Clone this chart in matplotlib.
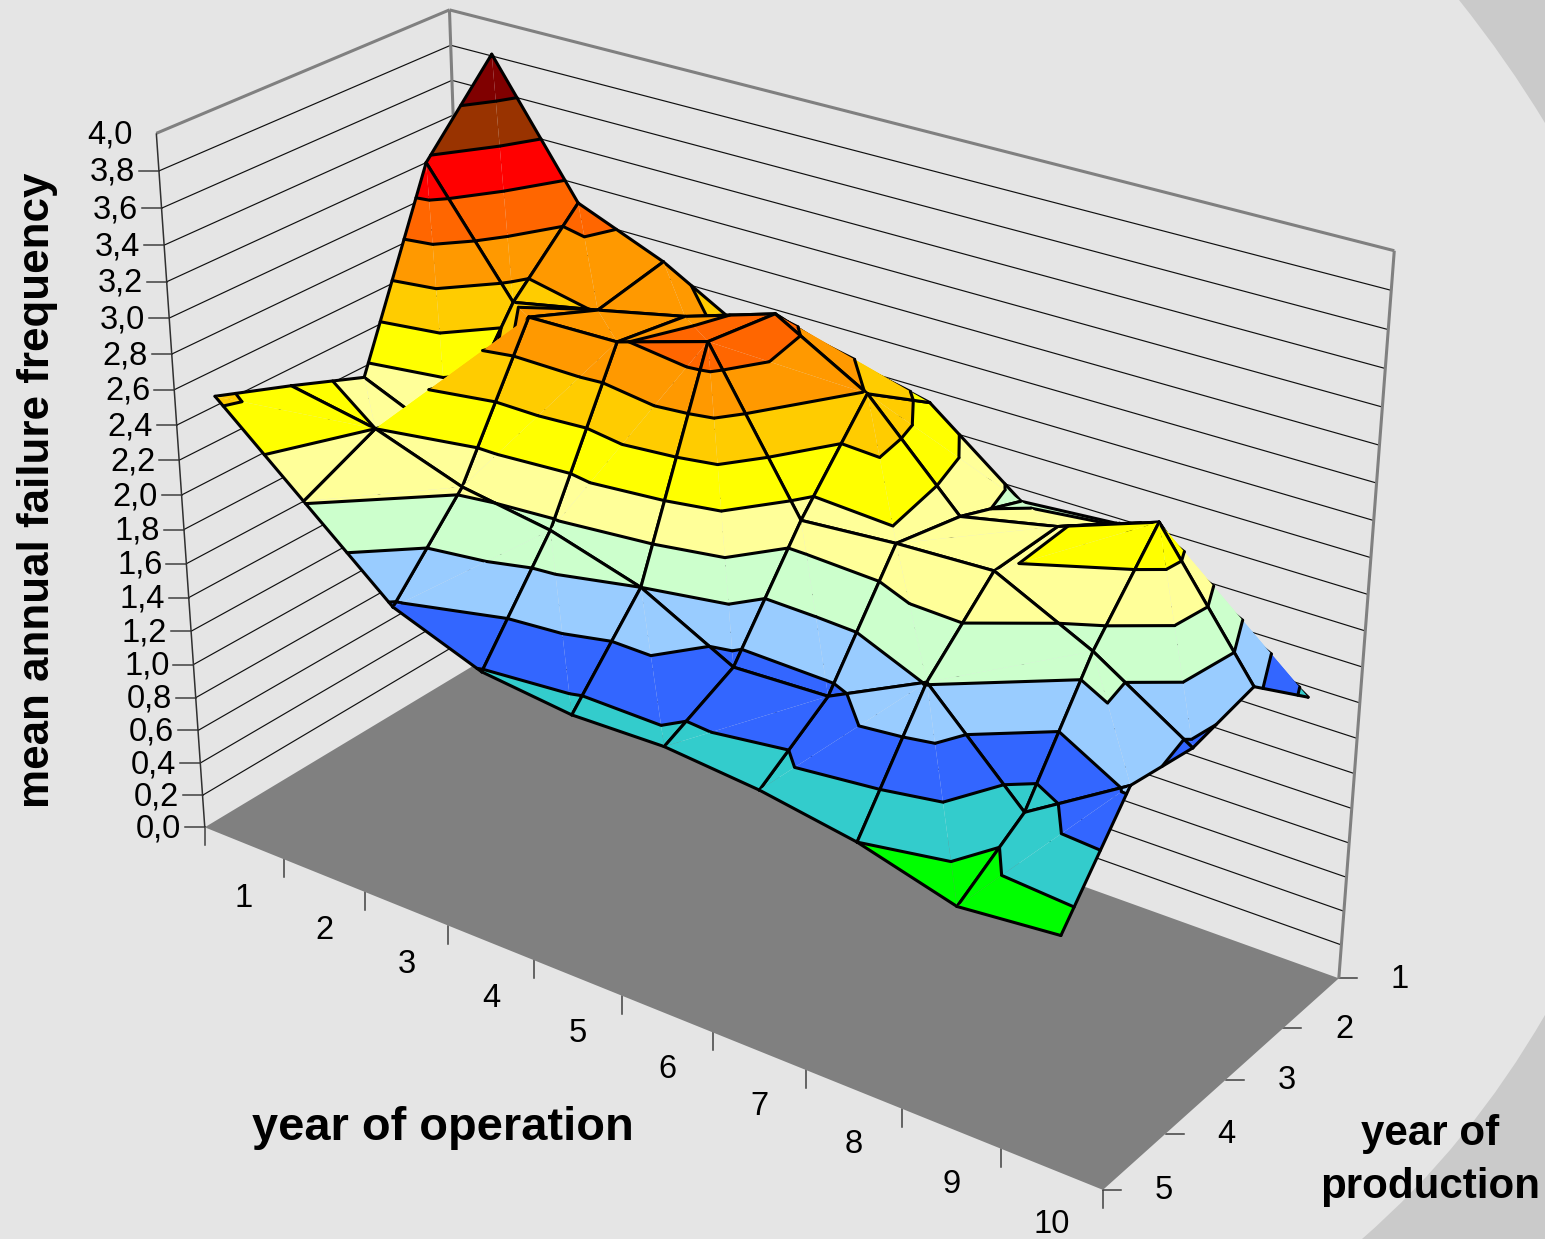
import numpy as np
import matplotlib
matplotlib.use('Agg')
import matplotlib.pyplot as plt
from matplotlib.patches import PathPatch
from matplotlib.path import Path
from mpl_toolkits.mplot3d.art3d import Poly3DCollection, Line3DCollection

plt.rcParams['font.family'] = ['Liberation Sans', 'DejaVu Sans']
W, H = 1545, 1239

years_op = list(range(1, 11))
years_prod = list(range(1, 6))
z_ticks = [0.0,0.2,0.4,0.6,0.8,1.0,1.2,1.4,1.6,1.8,2.0,2.2,2.4,2.6,2.8,3.0,3.2,3.4,3.6,3.8,4.0]

# mean annual failure frequency, one row per year of production
prod1 = [3.81,3.09,2.89,2.61,2.65,2.53,2.13,2.17,1.90,1.54]
prod2 = [3.37,2.71,2.81,2.92,3.08,2.79,2.27,2.38,2.57,1.85]
prod3 = [2.33,2.12,2.97,2.98,3.13,2.31,2.35,2.37,2.11,1.77]
prod4 = [2.49,2.40,2.23,2.15,2.00,1.73,1.75,2.01,1.49,1.83]
prod5 = [2.64,2.21,1.78,1.59,1.53,1.54,1.49,1.40,1.25,1.30]
Zv = np.array([prod1,prod2,prod3,prod4,prod5])

levels = [1.2,1.4,1.6,1.8,2.0,2.2,2.4,2.6,2.8,3.0,3.2,3.4,3.6,3.8]
band_colors = ['#00ff00','#33cccc','#3366ff','#99ccff','#ccffcc','#ffff99','#ffff00',
               '#ffcc00','#ff9900','#ff6600','#ff0000','#993300','#800000']

# diagonal of each cell: 1 main, 0 anti
diag = [[1,1,1,1,0,0,1,1,0],
        [1,1,1,1,0,1,0,0,1],
        [1,0,0,0,1,1,1,0,1],
        [0,0,0,1,1,0,0,1,0]]

# camera: box corners (op axis position, prod, z) and where they land in pixels
world = [(0,5,0),(10,5,0),(10,1,0),(0,1,0),(0,5,4),(10,1,4),(0,1,4)]
pix = [(205,825.7),(1103,1191),(1339,977),(472,668),(156,134),(1394,251),(450,9)]
A, b = [], []
for (X,Y,Z),(px,py) in zip(world,pix):
    A.append([X,Y,Z,1,0,0,0,0,-px*X,-px*Y,-px*Z]); b.append(px)
    A.append([0,0,0,0,X,Y,Z,1,-py*X,-py*Y,-py*Z]); b.append(py)
p = np.linalg.lstsq(np.array(A,float),np.array(b,float),rcond=None)[0]
P = np.append(p,1.0).reshape(3,4)

def project(u,v,z):
    q = P @ np.array([u,v,z,1.0])
    return q[0]/q[2], q[1]/q[2]

fig = plt.figure(figsize=(W/100,H/100),dpi=100,facecolor='#e5e5e5')
bg = fig.add_axes([0,0,1,1],zorder=0)
bg.set_xlim(0,W); bg.set_ylim(H,0); bg.axis('off')
codes = [Path.MOVETO,Path.CURVE3,Path.CURVE3,Path.LINETO,Path.CLOSEPOLY]
bg.add_patch(PathPatch(Path([(1459,0),(1507,60),(1545,123),(1545,0),(1459,0)],codes),fc='#cacaca',ec='none'))
bg.add_patch(PathPatch(Path([(1545,1015),(1470,1145),(1362,1239),(1545,1239),(1545,1015)],codes),fc='#cacaca',ec='none'))

ax = fig.add_axes([0,0,1,1],projection='3d',zorder=1)
ax.set_axis_off(); ax.patch.set_visible(False); ax.computed_zorder=False

def get_proj():
    ax.apply_aspect()
    T = ax.transData.inverted().get_matrix()
    r1 = P[0]; r2 = H*P[2]-P[1]; r3 = P[2]
    return np.array([T[0,0]*r1+T[0,2]*r3, T[1,1]*r2+T[1,2]*r3, [0,0,0,-1.0], r3])
ax.get_proj = get_proj

def add_poly(verts,**kw):
    c = Poly3DCollection(verts,**kw); c.set_clip_on(False); ax.add_collection3d(c,autolim=False); return c
def add_lines(segs,**kw):
    c = Line3DCollection(segs,**kw); c.set_clip_on(False); ax.add_collection3d(c,autolim=False); return c

add_poly([[(0,5,0),(10,5,0),(10,1,0),(0,1,0)]],facecolors='#808080',edgecolors='none',zorder=1)
wall = []
for z in z_ticks[1:-1]:
    wall.append([(0,5,z),(0,1,z)]); wall.append([(0,1,z),(10,1,z)])
add_lines(wall,colors='#101010',linewidths=0.85,zorder=2)
add_lines([[(0,1,0),(0,1,4)],[(10,1,0),(10,1,4)],[(0,5,4),(0,1,4)],[(0,1,4),(10,1,4)]],colors='#808080',linewidths=2.2,zorder=3)
add_lines([[(0,5,0),(0,5,4)]],colors='#303030',linewidths=1.1,zorder=3)

def clip(poly,lev,keep_above):
    out = []
    for k in range(len(poly)):
        a,b2 = poly[k],poly[(k+1)%len(poly)]
        ina = a[2]>=lev if keep_above else a[2]<=lev
        inb = b2[2]>=lev if keep_above else b2[2]<=lev
        if ina: out.append(a)
        if ina!=inb:
            t=(lev-a[2])/(b2[2]-a[2])
            out.append(tuple(a[m]+t*(b2[m]-a[m]) for m in range(3)))
    return out

def contour(tri,lev):
    pts=[]
    for k in range(3):
        a,b2=tri[k],tri[(k+1)%3]
        if (a[2]<lev)!=(b2[2]<lev):
            t=(lev-a[2])/(b2[2]-a[2])
            pts.append(tuple(a[m]+t*(b2[m]-a[m]) for m in range(3)))
    return pts if len(pts)==2 else None

cam = np.linalg.svd(P)[2][-1]; cam = cam[:3]/cam[3]
tris=[]
for j in range(4):
    for i in range(9):
        n = lambda a,c:(a+0.5,c+1,Zv[c,a])
        a,b2,c,d = n(i,j),n(i+1,j),n(i+1,j+1),n(i,j+1)
        if diag[j][i]:
            tris.append(((a,b2,c),[(a,b2),(b2,c)]))
            tris.append(((a,c,d),[(c,d),(d,a)]))
        else:
            tris.append(((a,b2,d),[(a,b2),(d,a)]))
            tris.append(((b2,c,d),[(b2,c),(c,d)]))
def key(t):
    m = np.mean(t[0],axis=0)
    return -np.hypot((m[0]-cam[0])/10,(m[1]-cam[1])/4)
tris.sort(key=key)

zo=10
for tri,edges in tris:
    polys,cols=[],[]
    for k,col in enumerate(band_colors):
        q = clip(clip(list(tri),levels[k],True),levels[k+1],False)
        if len(q)>=3:
            polys.append(q); cols.append(col)
    add_poly(polys,facecolors=cols,edgecolors='none',zorder=zo)
    segs=list(edges)
    for lev in levels:
        s=contour(tri,lev)
        if s: segs.append(s)
    add_lines(segs,colors='k',linewidths=2.2,zorder=zo+1,capstyle='round')
    zo+=2

# ticks and labels
for z in z_ticks:
    x,y=project(0,5,z)
    if z<3.9: bg.plot([x-20,x],[y,y],color='#404040',lw=1.1)
    bg.text(x-24,y+1.5,f'{z:.1f}'.replace('.',','),ha='right',va='center',fontsize=23.5)
for u in range(0,11):
    x,y=project(u,5,0)
    bg.plot([x,x],[y,y+18],color='#404040',lw=1.1)
for k in years_op:
    x,y=project(k-0.5,5,0)
    bg.text(x,y+55.5,str(k),ha='center',va='center',fontsize=23.5)
for k in years_prod:
    x,y=project(10,k,0)
    bg.plot([x,x+18],[y,y],color='#404040',lw=1.1)
    bg.text(x+61,y+1,str(k),ha='center',va='center',fontsize=23.5)
bg.text(443,1128,'year of operation',ha='center',va='center',fontsize=33.8,fontweight='bold')
bg.text(1430,1134,'year of',ha='center',va='center',fontsize=30.3,fontweight='bold')
bg.text(1430,1187,'production',ha='center',va='center',fontsize=30.3,fontweight='bold')
bg.text(38,490,'mean annual failure frequency',ha='center',va='center',rotation=90,fontsize=31.7,fontweight='bold')

fig.savefig('out.png',dpi=100,facecolor=fig.get_facecolor())
